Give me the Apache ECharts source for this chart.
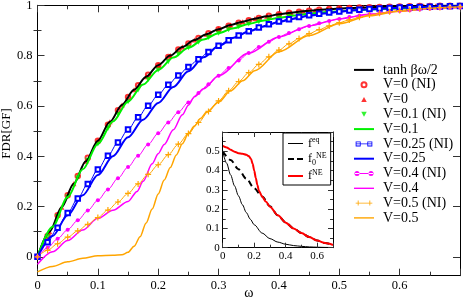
<!DOCTYPE html>
<html><head><meta charset="utf-8">
<script src="https://cdn.jsdelivr.net/npm/echarts@6/dist/echarts.min.js"></script>
<style>html,body{margin:0;padding:0;background:#fff}#c{width:463px;height:300px}</style>
</head><body><div id="c"></div>
<script>
// ---------- data ----------
const omegaNI = [0, 0.0167, 0.0333, 0.05, 0.0667, 0.0833, 0.1, 0.1167, 0.1333, 0.15, 0.1667, 0.1833, 0.2, 0.2167, 0.2333, 0.25, 0.2667, 0.2833, 0.3, 0.3167, 0.3333, 0.35, 0.3667, 0.3833, 0.4, 0.4167, 0.4333, 0.45, 0.4667, 0.4833, 0.5, 0.5167, 0.5333, 0.55, 0.5667, 0.5833, 0.6, 0.6167, 0.6333, 0.65, 0.6667, 0.6833, 0.7];
const omegaTri = [0, 0.02, 0.04, 0.06, 0.08, 0.1, 0.12, 0.14, 0.16, 0.18, 0.2, 0.22, 0.24, 0.26, 0.28, 0.3, 0.32, 0.34, 0.36, 0.38, 0.4, 0.42, 0.44, 0.46, 0.48, 0.5, 0.52, 0.54, 0.56, 0.58, 0.6, 0.62, 0.64, 0.66, 0.68, 0.7];
const omegaLine = [0, 0.025, 0.05, 0.075, 0.1, 0.125, 0.15, 0.175, 0.2, 0.225, 0.25, 0.275, 0.3, 0.325, 0.35, 0.375, 0.4, 0.425, 0.45, 0.475, 0.5, 0.525, 0.55, 0.575, 0.6, 0.625, 0.65, 0.675, 0.7];

const tanhVals = [0, 0.1, 0.197, 0.291, 0.38, 0.462, 0.537, 0.604, 0.664, 0.716, 0.762, 0.8, 0.834, 0.862, 0.885, 0.905, 0.922, 0.935, 0.947, 0.956, 0.964, 0.97, 0.976, 0.98, 0.984, 0.987, 0.989, 0.991, 0.993, 0.994, 0.995, 0.996, 0.997, 0.9975, 0.998, 0.998];
const v0NI = [0, 0.083, 0.165, 0.245, 0.321, 0.394, 0.462, 0.525, 0.583, 0.635, 0.682, 0.724, 0.762, 0.794, 0.824, 0.848, 0.870, 0.889, 0.905, 0.919, 0.931, 0.941, 0.950, 0.958, 0.964, 0.970, 0.974, 0.978, 0.982, 0.985, 0.987, 0.989, 0.991, 0.992, 0.993, 0.994, 0.995, 0.996, 0.997, 0.997, 0.998, 0.998, 0.998];
const v0 = [0, 0.1, 0.197, 0.291, 0.38, 0.462, 0.537, 0.604, 0.664, 0.716, 0.762, 0.8, 0.834, 0.862, 0.885, 0.905, 0.922, 0.935, 0.947, 0.956, 0.964, 0.97, 0.976, 0.98, 0.984, 0.987, 0.989, 0.991, 0.993, 0.994, 0.995, 0.996, 0.997, 0.9975, 0.998, 0.998];
const v01NI = [0, 0.081, 0.16, 0.238, 0.313, 0.384, 0.449, 0.51, 0.566, 0.617, 0.663, 0.705, 0.743, 0.776, 0.806, 0.831, 0.853, 0.872, 0.889, 0.903, 0.915, 0.926, 0.935, 0.943, 0.95, 0.956, 0.961, 0.966, 0.97, 0.973, 0.976, 0.979, 0.981, 0.983, 0.985, 0.987, 0.988, 0.989, 0.99, 0.991, 0.992, 0.993, 0.994];
const v01 = [0, 0.12, 0.238, 0.348, 0.449, 0.538, 0.617, 0.685, 0.743, 0.792, 0.831, 0.864, 0.889, 0.909, 0.926, 0.94, 0.95, 0.959, 0.966, 0.972, 0.976, 0.98, 0.983, 0.985, 0.987, 0.989, 0.991, 0.992, 0.994];
const v025NI = [0, 0.058, 0.116, 0.174, 0.232, 0.29, 0.347, 0.402, 0.455, 0.506, 0.555, 0.601, 0.644, 0.684, 0.721, 0.755, 0.786, 0.814, 0.839, 0.861, 0.88, 0.897, 0.912, 0.925, 0.936, 0.945, 0.953, 0.96, 0.966, 0.971, 0.975, 0.979, 0.982, 0.985, 0.987, 0.989, 0.991, 0.992, 0.993, 0.994, 0.995, 0.996, 0.997];
const v025 = [0, 0.083, 0.165, 0.245, 0.325, 0.40, 0.475, 0.545, 0.612, 0.675, 0.738, 0.793, 0.838, 0.871, 0.896, 0.916, 0.934, 0.947, 0.958, 0.967, 0.974, 0.98, 0.984, 0.987, 0.99, 0.992, 0.994, 0.995, 0.996];
const v04NI = [0, 0.036, 0.072, 0.108, 0.145, 0.184, 0.225, 0.268, 0.312, 0.357, 0.402, 0.447, 0.491, 0.534, 0.575, 0.614, 0.651, 0.686, 0.72, 0.751, 0.781, 0.81, 0.834, 0.855, 0.874, 0.89, 0.905, 0.918, 0.929, 0.938, 0.946, 0.953, 0.959, 0.964, 0.969, 0.973, 0.977, 0.98, 0.983, 0.986, 0.988, 0.99, 0.991];
const omegaV04 = [0, 0.025, 0.05, 0.075, 0.1, 0.125, 0.15, 0.165, 0.175, 0.19, 0.2, 0.21, 0.225, 0.24, 0.25, 0.26, 0.275, 0.3, 0.35, 0.4, 0.45, 0.5, 0.55, 0.6, 0.65, 0.7];
const v04 = [-0.03, 0.02, 0.065, 0.107, 0.153, 0.185, 0.22, 0.26, 0.30, 0.37, 0.41, 0.447, 0.505, 0.565, 0.603, 0.636, 0.668, 0.72, 0.81, 0.874, 0.918, 0.946, 0.964, 0.977, 0.986, 0.991];
const v05NI = [0, 0.026, 0.052, 0.078, 0.103, 0.129, 0.156, 0.186, 0.218, 0.252, 0.29, 0.328, 0.366, 0.406, 0.448, 0.49, 0.534, 0.578, 0.62, 0.66, 0.697, 0.732, 0.765, 0.795, 0.822, 0.847, 0.868, 0.887, 0.903, 0.918, 0.931, 0.942, 0.952, 0.961, 0.968, 0.974, 0.979, 0.983, 0.986, 0.989, 0.991, 0.993, 0.994];
const omegaV05 = [0, 0.025, 0.05, 0.075, 0.1, 0.125, 0.14, 0.15, 0.16, 0.17, 0.18, 0.19, 0.2, 0.21, 0.22, 0.23, 0.24, 0.25, 0.26, 0.27, 0.28, 0.3, 0.32, 0.34, 0.36, 0.4, 0.45, 0.5, 0.55, 0.6, 0.65, 0.7];
const v05 = [-0.06, -0.038, -0.02, -0.006, 0.004, 0.006, 0.008, 0.018, 0.042, 0.08, 0.135, 0.19, 0.25, 0.305, 0.355, 0.405, 0.45, 0.49, 0.52, 0.55, 0.575, 0.615, 0.66, 0.70, 0.74, 0.815, 0.88, 0.927, 0.958, 0.976, 0.987, 0.992];

// inset
const insetOmega = [0, 0.025, 0.05, 0.075, 0.1, 0.125, 0.15, 0.175, 0.2, 0.25, 0.3, 0.35, 0.4, 0.45, 0.5, 0.55, 0.6, 0.65, 0.7];
const feq = [0.5, 0.438, 0.378, 0.321, 0.269, 0.223, 0.182, 0.148, 0.119, 0.076, 0.047, 0.029, 0.018, 0.011, 0.007, 0.004, 0.0025, 0.0015, 0.001];
const omegaF0 = [0, 0.05, 0.1, 0.15, 0.2, 0.25, 0.3, 0.35, 0.4, 0.45, 0.5, 0.55, 0.6, 0.65, 0.7];
const f0NE = [0.5, 0.455, 0.407, 0.358, 0.308, 0.266, 0.215, 0.168, 0.13, 0.1, 0.076, 0.055, 0.037, 0.024, 0.014];
const omegaFNE = [0, 0.025, 0.05, 0.075, 0.1, 0.125, 0.15, 0.165, 0.18, 0.19, 0.2, 0.21, 0.22, 0.23, 0.25, 0.275, 0.3, 0.35, 0.4, 0.45, 0.5, 0.55, 0.6, 0.65, 0.7];
const fNE = [0.528, 0.52, 0.508, 0.498, 0.49, 0.487, 0.482, 0.475, 0.46, 0.435, 0.40, 0.362, 0.325, 0.295, 0.265, 0.238, 0.213, 0.168, 0.13, 0.1, 0.076, 0.055, 0.037, 0.024, 0.014];

const yMajor = [0, 0.2, 0.4, 0.6, 0.8, 1];
const yMinor = [0.1, 0.3, 0.5, 0.7, 0.9];

// ---------- chart ----------
const FONT = 'Liberation Serif';
const pairs = (xs, ys) => xs.map((x, i) => [x, ys[i]]);
const chart = echarts.init(document.getElementById('c'), null, {renderer: 'canvas'});
const tickCol = '#333';
const axLine = {show: true, onZero: false, lineStyle: {color: '#000', width: 1}};
const mainX = (pos, labels) => ({
  gridIndex: 0, type: 'value', position: pos, min: 0, max: 0.7, interval: 0.1,
  axisLine: axLine,
  axisTick: {inside: true, length: 7, lineStyle: {color: tickCol}},
  minorTick: {show: true, splitNumber: 2, length: 4, lineStyle: {color: tickCol}},
  axisLabel: {show: labels, fontFamily: FONT, fontSize: 12.5, color: '#000', margin: 4, showMaxLabel: false},
  splitLine: {show: false}
});
const mainY = (pos, vals, len, line, labels) => ({
  gridIndex: 0, type: 'value', position: pos, min: -0.075, max: 1,
  axisLine: line ? axLine : {show: false},
  axisTick: {inside: true, length: len, customValues: vals, lineStyle: {color: tickCol}},
  axisLabel: labels ? {fontFamily: FONT, fontSize: 12.5, color: '#000', margin: 5, customValues: yMajor} : {show: false},
  splitLine: {show: false}
});
const insX = (pos, labels) => ({
  gridIndex: 1, type: 'value', position: pos, min: 0, max: 0.7, interval: 0.2, z: 12,
  axisLine: axLine,
  axisTick: {inside: true, length: 5, lineStyle: {color: tickCol}},
  minorTick: {show: true, splitNumber: 2, length: 3, lineStyle: {color: tickCol}},
  axisLabel: {show: labels, fontFamily: FONT, fontSize: 11, color: '#000', margin: 3, showMaxLabel: false},
  splitLine: {show: false}
});
const insY = (pos, labels) => ({
  gridIndex: 1, type: 'value', position: pos, min: 0, max: 0.6, interval: 0.1, z: 12,
  axisLine: axLine,
  axisTick: {inside: true, length: 5, lineStyle: {color: tickCol}},
  minorTick: {show: true, splitNumber: 2, length: 3, lineStyle: {color: tickCol}},
  axisLabel: {show: labels, fontFamily: FONT, fontSize: 11, color: '#000', margin: 3, showMaxLabel: false},
  splitLine: {show: false}
});

const xAxes = [mainX('bottom', true), mainX('top', false), insX('bottom', true), insX('top', false)];
Object.assign(xAxes[0], {name: 'ω', nameLocation: 'middle', nameGap: 11, nameMoveOverlap: false,
  nameTextStyle: {fontFamily: FONT, fontSize: 14, color: '#000'}});
const yAxes = [mainY('left', yMajor, 7, true, true), mainY('left', yMinor, 4, false, false),
               mainY('right', yMajor, 7, true, false), mainY('right', yMinor, 4, false, false),
               insY('left', true), insY('right', false)];
Object.assign(yAxes[0], {name: 'FDR[GF]', nameLocation: 'middle', nameGap: 24, nameMoveOverlap: false,
  nameTextStyle: {fontFamily: FONT, fontSize: 13, color: '#000', padding: [0, 0, 0, 14]}});

const plusPath = 'path://M4,0h2v4h4v2h-4v4h-2v-4h-4v-2h4z';
const downTri = 'path://M0,0L10,0L5,9Z';
const upTri = 'path://M5,0L10,9L0,9Z';
const RED = '#ff0000', GREEN = '#00f000', BLUE = '#0000ff', MAG = '#ff00ff', ORA = '#ffa500';

// legend icons (line samples)
const barThick = 'path://M0,0h20v2h-20z';
const barThin = 'path://M0,0h20v1.4h-20z';
const iconSq = 'path://M0,2.6h20v0.8h-20z' +
  'M0,0h6v1h-6zM0,5h6v1h-6zM0,0h1v6h-1zM5,0h1v6h-1z' +
  'M14,0h6v1h-6zM14,5h6v1h-6zM14,0h1v6h-1zM19,0h1v6h-1z';
const iconCirc = 'path://M0,2.6h20v0.8h-20zM0.5,3a2.5,2.5 0 1,0 5,0a2.5,2.5 0 1,0 -5,0zM14.5,3a2.5,2.5 0 1,0 5,0a2.5,2.5 0 1,0 -5,0z';
const iconPlus = 'path://M0,2.6h20v0.8h-20zM2.5,0h1v6h-1zM0,2.5h6v1h-6zM16.5,0h1v6h-1zM14,2.5h6v1h-6z';

const lineS = (name, data, color, width, extra) => Object.assign({
  name, type: 'line', data, xAxisIndex: 0, yAxisIndex: 0, symbol: 'none', smooth: 0.3, smoothMonotone: 'x',
  lineStyle: {color, width}, itemStyle: {color}, emphasis: {disabled: true}
}, extra || {});
const scatS = (name, data, color, symbol, size, extra) => Object.assign({
  name, type: 'scatter', data, xAxisIndex: 0, yAxisIndex: 0, symbol, symbolSize: size,
  itemStyle: {color}, emphasis: {disabled: true}
}, extra || {});

const series = [
  lineS('tanh βω/2', pairs(omegaTri, tanhVals), '#000', 2),
  scatS('V=0 (NI)', pairs(omegaNI, v0NI), RED, 'emptyCircle', 4.5, {itemStyle: {color: RED, borderColor: RED, borderWidth: 1}}),
  scatS('V=0', pairs(omegaTri, v0), RED, upTri, [5.5, 5]),
  scatS('V=0.1 (NI)', pairs(omegaNI, v01NI), GREEN, downTri, [5.5, 5]),
  lineS('V=0.1', pairs(omegaLine, v01), GREEN, 2),
  lineS('V=0.25 (NI)', pairs(omegaNI, v025NI), BLUE, 1, {symbol: 'emptyRect', symbolSize: 4.5, showSymbol: true, itemStyle: {color: BLUE, borderColor: BLUE, borderWidth: 1}}),
  lineS('V=0.25', pairs(omegaLine, v025), BLUE, 2),
  lineS('V=0.4 (NI)', pairs(omegaNI, v04NI), MAG, 1, {symbol: 'circle', symbolSize: 4, showSymbol: true}),
  lineS('V=0.4', pairs(omegaV04, v04), MAG, 1.5),
  lineS('V=0.5 (NI)', pairs(omegaNI, v05NI), ORA, 1, {symbol: plusPath, symbolSize: 6, showSymbol: true}),
  lineS('V=0.5', pairs(omegaV05, v05), ORA, 1.5),
  // inset
  {name: 'feq', type: 'line', xAxisIndex: 2, yAxisIndex: 4, z: 11, data: pairs(insetOmega, feq), symbol: 'none', smooth: 0.3, smoothMonotone: 'x', lineStyle: {color: '#000', width: 1}, itemStyle: {color: '#000'}},
  {name: 'f0NE', type: 'line', xAxisIndex: 2, yAxisIndex: 4, z: 11, data: pairs(omegaF0, f0NE), symbol: 'none', smooth: 0.3, smoothMonotone: 'x', lineStyle: {color: '#000', width: 2, type: [6, 4]}, itemStyle: {color: '#000'}},
  {name: 'fNE', type: 'line', xAxisIndex: 2, yAxisIndex: 4, z: 11, data: pairs(omegaFNE, fNE), symbol: 'none', smooth: 0.3, smoothMonotone: 'x', lineStyle: {color: RED, width: 2}, itemStyle: {color: RED}}
];

const noBorder = {borderWidth: 0};
const mainLegendData = [
  {name: 'tanh βω/2', icon: barThick, itemStyle: noBorder},
  {name: 'V=0 (NI)'},
  {name: 'V=0', icon: upTri, itemStyle: noBorder},
  {name: 'V=0.1 (NI)', icon: downTri, itemStyle: noBorder},
  {name: 'V=0.1', icon: barThick, itemStyle: noBorder},
  {name: 'V=0.25 (NI)', icon: iconSq, itemStyle: {color: BLUE, borderWidth: 0}},
  {name: 'V=0.25', icon: barThick, itemStyle: noBorder},
  {name: 'V=0.4 (NI)', icon: iconCirc, itemStyle: noBorder},
  {name: 'V=0.4', icon: barThin, itemStyle: noBorder},
  {name: 'V=0.5 (NI)', icon: iconPlus, itemStyle: noBorder},
  {name: 'V=0.5', icon: barThin, itemStyle: noBorder}
];
const insetNames = {feq: '{f|f}{sup|eq}', f0NE: '{f|f}{sub|0}{sup|NE}', fNE: '{f|f}{sup|NE}'};

chart.setOption({
  animation: false,
  backgroundColor: '#fff',
  grid: [
    {left: 37.5, top: 5.3, width: 422.5, height: 270.4, show: false, containLabel: false, outerBoundsMode: 'none'},
    {left: 222.7, top: 132, width: 110.3, height: 115.7, show: true, backgroundColor: '#fff', borderWidth: 0, z: 10, containLabel: false, outerBoundsMode: 'none'}
  ],
  xAxis: xAxes,
  yAxis: yAxes,
  legend: [
    {data: mainLegendData, orient: 'vertical', left: 354, top: 62.5, padding: 0, symbolKeepAspect: true,
     itemWidth: 20, itemHeight: 5, itemGap: 0, selectedMode: false,
     textStyle: {fontFamily: FONT, fontSize: 14, lineHeight: 14.8, color: '#000', padding: [0, 0, 0, 4]}},
    {data: [{name: 'feq', icon: 'path://M0,0h15v1h-15z'}, {name: 'f0NE', icon: 'path://M0,0h6v2h-6zM9,0h6v2h-6z'}, {name: 'fNE', icon: 'path://M0,0h15v2h-15z'}],
     orient: 'vertical', left: 283, top: 133, padding: [3, 4, 3, 5], z: 13, symbolKeepAspect: true,
     borderColor: '#000', borderWidth: 1, backgroundColor: '#fff', itemWidth: 15, itemHeight: 6, itemGap: 2,
     selectedMode: false, formatter: n => insetNames[n],
     textStyle: {fontFamily: FONT, color: '#000', rich: {
       f: {fontFamily: FONT, fontSize: 12, lineHeight: 15, color: '#000'},
       sup: {fontFamily: FONT, fontSize: 8, lineHeight: 9, verticalAlign: 'top', color: '#000'},
       sub: {fontFamily: FONT, fontSize: 8, lineHeight: 9, verticalAlign: 'bottom', color: '#000'}
     }}}
  ],
  series
});
</script></body></html>
